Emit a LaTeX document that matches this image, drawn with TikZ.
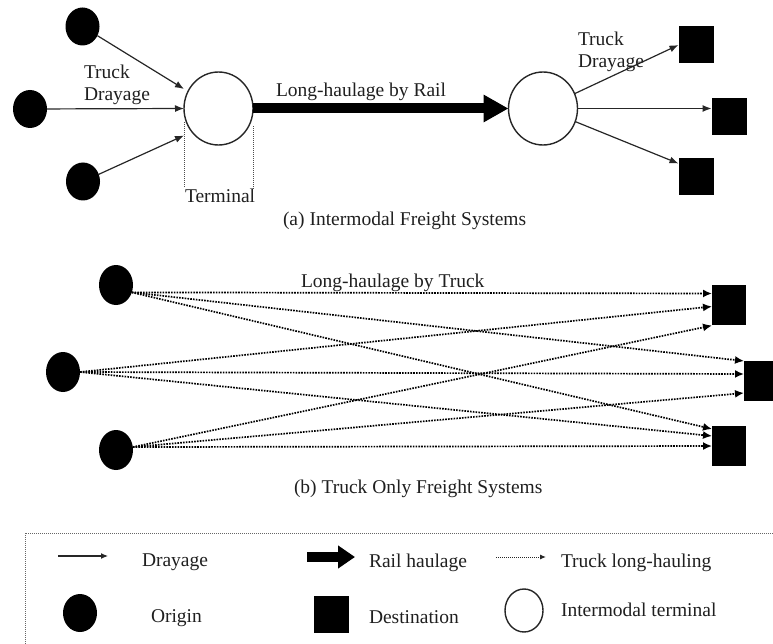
\documentclass[tikz,border=0pt]{standalone}
\usepackage{fontspec}
\setmainfont{Liberation Serif}
\usetikzlibrary{shapes.geometric,arrows.meta}
\begin{document}
\begin{tikzpicture}[x=1pt,y=-1pt,
  every node/.style={inner sep=0pt,outer sep=0pt},
  txt/.style={font=\fontsize{19.5}{22.5}\selectfont,text=black!88},
  origin/.style={ellipse,fill=black,minimum width=34pt,minimum height=38pt},
  dest/.style={rectangle,fill=black,minimum width=35pt,minimum height=37pt},
  destb/.style={rectangle,fill=black,minimum width=34pt,minimum height=40pt},
  term/.style={ellipse,draw=black!85,line width=1.4pt,fill=white,minimum width=69pt,minimum height=73pt},
  dray/.style={line width=1.2pt,draw=black!85,-{Latex[length=9pt,width=7pt]}},
  rail/.style={line width=10pt,-{Triangle[length=25pt,width=26pt]}},
  truckl/.style={line width=1.7pt,dash pattern=on 1.6pt off 1.2pt,draw=black,-{Latex[length=9pt,width=8pt]}},
  guide/.style={line width=0.6pt,dash pattern=on 1pt off 1pt,draw=black!70}
]
\useasboundingbox (0,0) rectangle (773,644);

% ---------- (a) Intermodal ----------
\node[origin] (o1) at (82.5,26.5) {};
\node[origin] (o2) at (30,109) {};
\node[origin] (o3) at (83,181.5) {};
\node[term] (t1) at (218.5,108.5) {};
\node[term] (t2) at (543,108.5) {};
\node[dest] (d1) at (696,45) {};
\node[dest] (d2) at (729,116.5) {};
\node[dest] (d3) at (696,176.5) {};

\draw[dray] (o1) -- ([yshift=19.5pt]t1.west);
\draw[dray] (o2) -- (t1.west);
\draw[dray] (o3) -- ([yshift=-27pt]t1.west);
\draw[rail] (t1.east) -- (t2.west);
\draw[dray] (t2) -- (d1.west);
\draw[dray] (t2.east) -- (t2.east -| d2.west);
\draw[dray] (t2) -- ([yshift=13pt]d3.west);

\coordinate (g1) at (184,188);
\coordinate (g2) at (253,190);
\draw[guide] ([yshift=-14pt]t1.west) -- (t1.west |- g1);
\draw[guide] ([yshift=-18pt]t1.east) -- (t1.east |- g2);

\node[txt,anchor=north west,align=left] (l1) at (84,64.7) {Truck\\Drayage};
\node[txt,anchor=north west,align=left] (l2) at (578,31.7) {Truck\\Drayage};
\node[txt,anchor=base west] (l3) at (276,97) {Long-haulage by Rail};
\node[txt,anchor=base west] (l4) at (185,203) {Terminal};
\node[txt,anchor=base west] (l5) at (283,226) {(a) Intermodal Freight Systems};

% ---------- (b) Truck only ----------
\node[origin,minimum height=40pt] (o4) at (116,285) {};
\node[origin,minimum height=40pt] (o5) at (63,372) {};
\node[origin,minimum height=40pt] (o6) at (116,450) {};
\node[destb] (d4) at (729,304.5) {};
\node[destb] (d5) at (761,381) {};
\node[destb] (d6) at (729,446) {};

\draw[truckl] (o4.-25) -- ([yshift=11pt]d4.west);
\draw[truckl] (o4.-25) -- ([yshift=20pt]d5.west);
\draw[truckl] (o4.-25) -- ([yshift=17pt]d6.west);
\draw[truckl] (o5.east) -- ([yshift=-2pt]d4.west);
\draw[truckl] (o5.east) -- ([yshift=7pt]d5.west);
\draw[truckl] (o5.east) -- ([yshift=10pt]d6.west);
\draw[truckl] (o6.10) -- ([yshift=-21pt]d4.west);
\draw[truckl] (o6.10) -- ([yshift=-12pt]d5.west);
\draw[truckl] (o6.10) -- (d6.west);

\node[txt,anchor=base west] (l6) at (301,287) {Long-haulage by Truck};
\node[txt,anchor=base west] (l7) at (294,493) {(b) Truck Only Freight Systems};

% ---------- legend ----------
\node[draw=black!60,line width=0.8pt,dash pattern=on 1pt off 1pt,rectangle,minimum width=760pt,minimum height=130pt,anchor=north west] (box) at (25,533) {};

\coordinate (a1s) at (58,556);
\coordinate (a1e) at (108,556);
\draw[dray,line width=1.1pt,-{Latex[length=7pt,width=6pt]}] (a1s) -- (a1e);
\node[txt,anchor=base west] (k1) at (142,566) {Drayage};

\coordinate (a2s) at (307,557);
\coordinate (a2e) at (355,557);
\draw[line width=10pt,-{Triangle[length=17pt,width=22pt]}] (a2s) -- (a2e);
\node[txt,anchor=base west] (k2) at (369,567) {Rail haulage};

\coordinate (a3s) at (496,557);
\coordinate (a3e) at (546,557);
\draw[line width=1pt,dash pattern=on 1pt off 1pt,draw=black!85,-{Latex[length=6pt,width=5pt]}] (a3s) -- (a3e);
\node[txt,anchor=base west] (k3) at (561,567) {Truck long-hauling};

\node[origin] (ko) at (80,613) {};
\node[txt,anchor=base west] (k4) at (151,622) {Origin};
\node[dest] (kd) at (331.5,614.5) {};
\node[txt,anchor=base west] (k5) at (369,623) {Destination};
\node[ellipse,draw=black!85,line width=1.4pt,minimum width=38pt,minimum height=43pt] (kt) at (524,610.5) {};
\node[txt,anchor=base west] (k6) at (561,616) {Intermodal terminal};
\end{tikzpicture}
\end{document}
